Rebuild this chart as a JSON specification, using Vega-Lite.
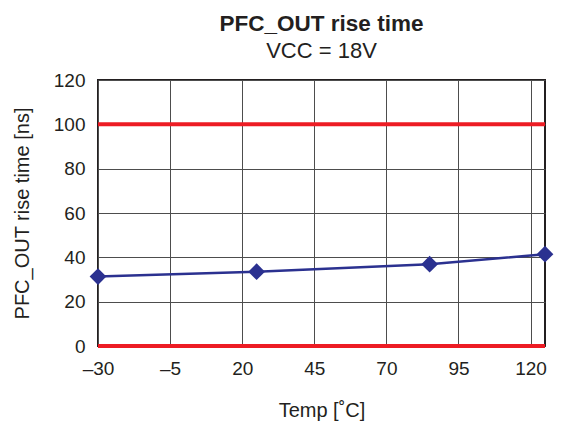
{
  "$schema": "https://vega.github.io/schema/vega-lite/v6.json",
  "width": 447,
  "height": 266,
  "autosize": {"type": "none"},
  "padding": {"left": 98, "top": 80, "right": 18, "bottom": 79},
  "background": "white",
  "title": {
    "text": "PFC_OUT rise time",
    "subtitle": "VCC = 18V",
    "anchor": "middle",
    "font": "Liberation Sans",
    "fontSize": 22.5,
    "fontWeight": "bold",
    "color": "#231f20",
    "subtitleFont": "Liberation Sans",
    "subtitleFontSize": 22,
    "subtitleColor": "#231f20",
    "subtitlePadding": 6,
    "offset": 9
  },
  "config": {
    "view": {"stroke": "#231f20", "strokeWidth": 2},
    "axis": {
      "labelFont": "Liberation Sans",
      "labelFontSize": 19,
      "labelColor": "#231f20",
      "titleFont": "Liberation Sans",
      "titleFontSize": 20,
      "titleFontWeight": "normal",
      "titleColor": "#231f20",
      "domain": false,
      "ticks": false,
      "grid": true,
      "gridColor": "#4d4d4d",
      "gridWidth": 1,
      "gridOpacity": 1
    }
  },
  "layer": [
    {
      "data": {"values": [{"limit": 0}, {"limit": 100}]},
      "mark": {"type": "rule", "color": "#ed1c24", "strokeWidth": 4},
      "encoding": {
        "y": {"field": "limit", "type": "quantitative", "scale": {"domain": [0, 120], "nice": false}}
      }
    },
    {
      "data": {
        "values": [
          {"temp": -30, "rise": 31.3},
          {"temp": 25, "rise": 33.5},
          {"temp": 85, "rise": 36.9},
          {"temp": 125, "rise": 41.4}
        ]
      },
      "mark": {
        "type": "line",
        "color": "#2b3190",
        "strokeWidth": 2.5,
        "point": {"shape": "diamond", "size": 280, "filled": true, "color": "#2b3190", "opacity": 1}
      },
      "encoding": {
        "x": {
          "field": "temp",
          "type": "quantitative",
          "scale": {"domain": [-30, 125], "nice": false, "zero": false},
          "axis": {
            "title": "Temp [˚C]",
            "values": [-30, -5, 20, 45, 70, 95, 120],
            "labelFlush": false,
            "labelPadding": 13,
            "titlePadding": 22,
            "labelExpr": "datum.value < 0 ? '–' + abs(datum.value) : datum.label"
          }
        },
        "y": {
          "field": "rise",
          "type": "quantitative",
          "scale": {"domain": [0, 120], "nice": false},
          "axis": {
            "title": "PFC_OUT rise time [ns]",
            "values": [0, 20, 40, 60, 80, 100, 120],
            "labelPadding": 13,
            "titlePadding": 21
          }
        }
      }
    }
  ]
}
